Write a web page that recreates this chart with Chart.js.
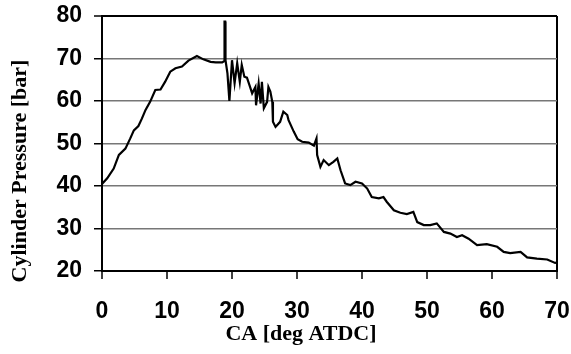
<!DOCTYPE html>
<html>
<head>
  <title>Cylinder Pressure</title>
  <script src="https://cdn.jsdelivr.net/npm/chart.js@4.4.0/dist/chart.umd.min.js"></script>
  <style>
    body { margin: 0; background: #fff; }
    #wrap { width: 571px; height: 354px; }
  </style>
</head>
<body>
  <div id="wrap">
    <canvas id="pressureChart" width="571" height="354"></canvas>
  </div>

  <script>
    // crank angle (deg ATDC) and cylinder pressure (bar)
    const caDeg = [
      0.0, 0.8, 1.8, 2.6, 3.6, 4.35, 4.9, 5.6, 6.15, 6.7, 7.4, 8.2, 9.0, 9.7,
      10.5, 11.3, 12.3, 13.3, 14.6, 15.6, 16.7, 17.5, 18.5, 18.8, 18.85, 18.95,
      19.0, 19.3, 19.6, 20.0, 20.4, 20.8, 21.2, 21.5, 21.9, 22.3, 22.7, 23.1,
      23.6, 23.7, 24.1, 24.4, 24.6, 24.9, 25.4, 25.6, 25.9, 26.2, 26.3, 26.7,
      27.4, 27.9, 28.5, 28.7, 29.5, 30.1, 30.8, 31.8, 32.6, 33.0, 33.1, 33.6,
      34.1, 34.9, 35.6, 36.2, 36.7, 37.4, 38.2, 39.0, 40.0, 40.8, 41.5, 42.6,
      43.3, 43.8, 44.9, 45.9, 46.9, 47.9, 48.5, 49.5, 50.5, 51.5, 52.6, 53.6,
      54.6, 55.4, 56.4, 57.7, 59.2, 60.8, 61.8, 62.8, 64.4, 65.4, 66.9, 68.5,
      69.7, 70.0
    ];
    const pressureBar = [
      40.5, 41.8, 44.1, 47.3, 48.8, 51.2, 53.1, 54.1, 55.9, 57.9, 59.8, 62.6, 62.7, 64.5,
      66.9, 67.7, 68.1, 69.5, 70.6, 69.8, 69.2, 69.1, 69.1, 69.4, 78.7, 78.7,
      69.6, 66.5, 60.0, 69.6, 64.2, 68.9, 64.5, 68.5, 65.7, 65.5, 63.7, 61.8,
      63.3, 59.0, 64.1, 59.4, 64.5, 58.3, 59.8, 63.3, 62.2, 59.8, 55.1, 53.9,
      55.1, 57.5, 56.7, 55.5, 52.8, 51.0, 50.4, 50.2, 49.5, 51.2, 47.3, 44.5,
      46.1, 44.9, 45.7, 46.5, 43.7, 40.6, 40.2, 41.0, 40.6, 39.4, 37.4, 37.1,
      37.4, 36.3, 34.3, 33.7, 33.4, 33.9, 31.5, 30.8, 30.8, 31.2, 29.2, 28.8,
      28.0, 28.4, 27.6, 26.1, 26.3, 25.7, 24.5, 24.2, 24.5, 23.2, 22.9, 22.7,
      21.9, 22.0
    ];

    const xTitle = 'CA [deg ATDC]';
    const yTitle = 'Cylinder Pressure [bar]';

    const tickFont = { family: '"Liberation Sans", Arial, sans-serif', size: 23, weight: 'bold' };
    const titleFont = 'bold 22px "Liberation Serif", "Times New Roman", serif';

    // axis titles sit where Excel put them, not centred on the plot area
    const axisTitles = {
      id: 'axisTitles',
      afterDraw(chart) {
        const c = chart.ctx;
        c.save();
        c.fillStyle = '#000';
        c.font = titleFont;
        c.textAlign = 'center';
        c.textBaseline = 'alphabetic';
        c.fillText(xTitle, 301, 340);
        c.translate(26, 171);
        c.rotate(-Math.PI / 2);
        c.fillText(yTitle, 0, 0);
        c.restore();
      }
    };

    const ctx = document.getElementById('pressureChart').getContext('2d');
    new Chart(ctx, {
      type: 'line',
      data: {
        datasets: [{
          data: caDeg.map((x, i) => ({ x: x, y: pressureBar[i] })),
          borderColor: '#000',
          borderWidth: 2.2,
          pointRadius: 0,
          tension: 0,
          fill: false
        }]
      },
      options: {
        responsive: false,
        animation: false,
        layout: { padding: { left: 0, right: 14, top: 16, bottom: 0 } },
        plugins: { legend: { display: false }, tooltip: { enabled: false } },
        scales: {
          x: {
            type: 'linear',
            min: 0,
            max: 70,
            afterFit: (s) => { s.height = 83; s.paddingLeft = 0; s.paddingRight = 0; },
            ticks: { stepSize: 10, color: '#000', font: tickFont, padding: 19, maxRotation: 0 },
            grid: {
              color: (c) => (c.tick && c.tick.value === 70 ? '#000' : 'rgba(0,0,0,0)'),
              lineWidth: 2,
              tickColor: '#000',
              tickWidth: 1.5,
              tickLength: 8
            },
            border: { color: '#000', width: 2 }
          },
          y: {
            min: 20,
            max: 80,
            afterFit: (s) => { s.width = 102; s.paddingTop = 0; s.paddingBottom = 0; },
            ticks: { stepSize: 10, color: '#000', font: tickFont, padding: 12 },
            grid: {
              color: (c) => (c.tick && c.tick.value === 80 ? '#000' : '#777'),
              lineWidth: (c) => (c.tick && c.tick.value === 80 ? 2 : 1.5),
              tickColor: '#000',
              tickWidth: 1.5,
              tickLength: 8
            },
            border: { color: '#000', width: 2 }
          }
        }
      },
      plugins: [axisTitles]
    });
  </script>
</body>
</html>
